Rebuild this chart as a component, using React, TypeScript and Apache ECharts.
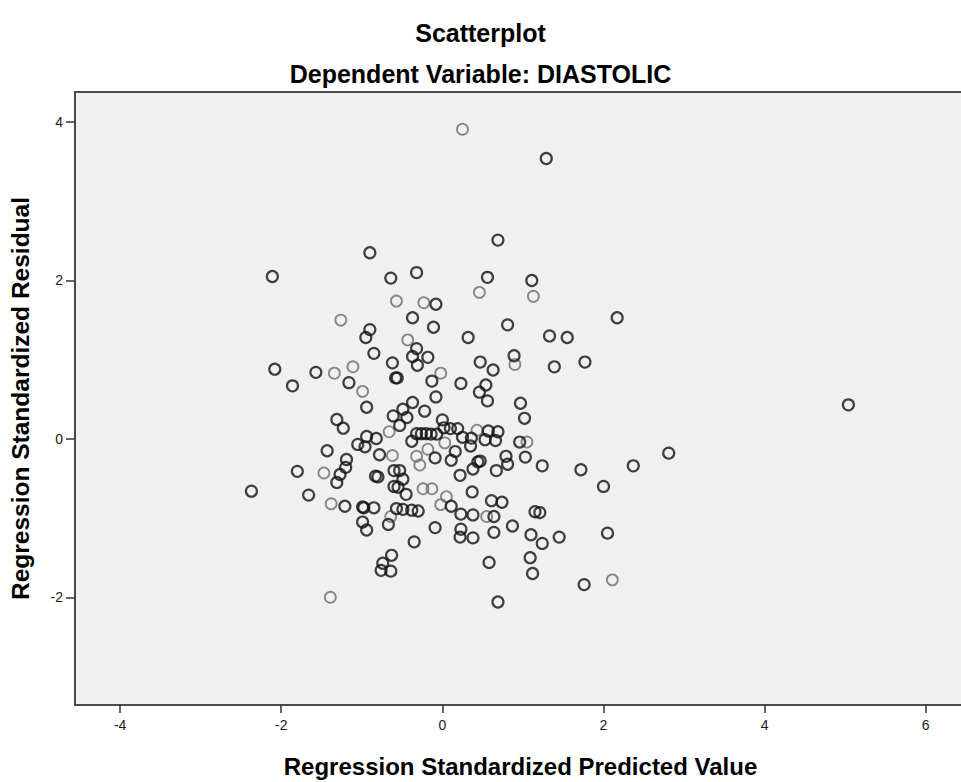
import React, { useEffect, useRef } from "react";
import * as echarts from "echarts";

const chartTitle = "Scatterplot";
const chartSubtitle = "Dependent Variable: DIASTOLIC";
const xAxisTitle = "Regression Standardized Predicted Value";
const yAxisTitle = "Regression Standardized Residual";

const xTickValues = [-4, -2, 0, 2, 4, 6];
const yTickValues = [-2, 0, 2, 4];

// [predicted, residual] — darker drawn circles
const darkPoints: [number, number][] = [
  [-0.9, 2.35], [-2.11, 2.05], [-0.64, 2.03], [-0.32, 2.1], [-0.08, 1.7],
  [-0.37, 1.53], [-0.11, 1.41], [-0.9, 1.38], [-0.95, 1.28], [0.32, 1.28],
  [-0.32, 1.14], [-0.37, 1.04], [-0.18, 1.03], [-0.31, 0.93], [-0.85, 1.08],
  [-0.62, 0.96], [0.47, 0.97], [-2.08, 0.88], [-1.57, 0.84], [-1.86, 0.67],
  [-1.16, 0.71], [-0.58, 0.77], [-0.56, 0.77], [-0.13, 0.73], [0.23, 0.7],
  [-0.08, 0.53], [-0.94, 0.4], [-0.37, 0.46], [-0.49, 0.375], [-0.22, 0.35],
  [-0.61, 0.29], [-0.44, 0.27], [-1.31, 0.245], [-1.23, 0.135], [0.0, 0.24],
  [-0.53, 0.17], [1.29, 3.54], [0.69, 2.51], [0.56, 2.04], [1.11, 2.0],
  [2.17, 1.53], [0.81, 1.44], [1.33, 1.3], [1.55, 1.28], [0.63, 0.87],
  [0.89, 1.05], [1.39, 0.91], [1.77, 0.97], [0.54, 0.68], [0.46, 0.59],
  [0.56, 0.48], [0.97, 0.45], [1.02, 0.26], [-0.32, 0.066], [-0.26, 0.066],
  [-0.2, 0.066], [-0.14, 0.06], [-0.07, 0.06], [0.02, 0.14], [0.1, 0.13],
  [0.19, 0.13], [0.25, 0.02], [0.36, 0.01], [0.57, 0.1], [0.69, 0.09],
  [0.53, -0.01], [0.66, -0.02], [-0.38, -0.03], [0.35, -0.09], [0.16, -0.16],
  [0.11, -0.27], [0.96, -0.04], [0.79, -0.22], [0.81, -0.32], [0.47, -0.28],
  [0.44, -0.29], [0.38, -0.38], [0.67, -0.4], [1.03, -0.23], [1.24, -0.34],
  [1.72, -0.39], [2.37, -0.34], [2.81, -0.18], [2.0, -0.6], [0.22, -0.46],
  [0.37, -0.67], [0.11, -0.85], [0.23, -0.95], [0.38, -0.96], [0.61, -0.78],
  [0.74, -0.8], [0.64, -0.98], [1.15, -0.92], [1.21, -0.93], [0.87, -1.1],
  [0.23, -1.14], [0.22, -1.24], [0.38, -1.25], [0.64, -1.18], [1.1, -1.21],
  [1.24, -1.32], [1.45, -1.24], [2.05, -1.19], [0.58, -1.56], [1.09, -1.5],
  [1.12, -1.7], [1.76, -1.84], [0.69, -2.06], [-0.09, -1.12], [5.04, 0.43],
  [-0.94, 0.03], [-0.82, 0.005], [-1.05, -0.07], [-0.96, -0.1], [-1.43, -0.15],
  [-0.78, -0.2], [-0.09, -0.24], [-1.19, -0.26], [-1.2, -0.36], [-1.27, -0.45],
  [-1.31, -0.55], [-1.8, -0.41], [-0.6, -0.4], [-0.53, -0.4], [-0.83, -0.47],
  [-0.8, -0.48], [-0.49, -0.51], [-0.6, -0.6], [-0.55, -0.61], [-0.45, -0.7],
  [-2.37, -0.66], [-1.66, -0.71], [-1.21, -0.85], [-0.99, -0.86], [-0.975, -0.87],
  [-0.85, -0.87], [-0.57, -0.88], [-0.49, -0.89], [-0.38, -0.9], [-0.3, -0.91],
  [-0.67, -1.08], [-0.99, -1.05], [-0.94, -1.15], [-0.35, -1.3], [-0.63, -1.47],
  [-0.74, -1.57], [-0.76, -1.66], [-0.64, -1.67],
];

// [predicted, residual] — lighter drawn circles
const lightPoints: [number, number][] = [
  [0.46, 1.85], [-0.57, 1.74], [-0.23, 1.72], [-1.26, 1.5], [-0.43, 1.25],
  [-1.34, 0.83], [-1.11, 0.91], [-0.02, 0.83], [-0.99, 0.6], [0.25, 3.91],
  [1.13, 1.8], [0.9, 0.94], [-0.66, 0.09], [0.43, 0.11], [0.03, -0.05],
  [1.05, -0.04], [0.05, -0.73], [-0.02, -0.83], [0.55, -0.98], [2.11, -1.78],
  [-0.62, -0.21], [-0.32, -0.22], [-0.18, -0.13], [-0.28, -0.33], [-1.47, -0.43],
  [-0.24, -0.63], [-0.13, -0.63], [-1.38, -0.82], [-0.64, -0.98], [-1.39, -2.0],
];

const FONT = "'Liberation Sans', Arial, sans-serif";

export default function App() {
  const ref = useRef<HTMLDivElement>(null);
  useEffect(() => {
    if (!ref.current) return;
    const chart = echarts.init(ref.current, null, { renderer: "svg" });
    chart.setOption({
      animation: false,
      backgroundColor: "#ffffff",
      textStyle: { fontFamily: FONT },
      title: [
        {
          text: chartTitle,
          left: "center",
          top: 15,
          textStyle: { fontFamily: FONT, fontWeight: "bold", fontSize: 25, color: "#000" },
        },
        {
          text: chartSubtitle,
          left: "center",
          top: 56,
          textStyle: { fontFamily: FONT, fontWeight: "bold", fontSize: 25, color: "#000" },
        },
      ],
      grid: {
        left: 75,
        top: 92,
        right: -5,
        bottom: 77,
        containLabel: false,
        outerBoundsMode: "none",
        show: true,
        backgroundColor: "#F0F0F0",
        borderColor: "#4a4a4a",
        borderWidth: 2,
      },
      xAxis: {
        type: "value",
        min: -4.56,
        max: 6.5,
        splitLine: { show: false },
        axisLine: { show: false, onZero: false },
        axisTick: {
          show: true,
          length: 8,
          customValues: xTickValues,
          lineStyle: { color: "#333", width: 1.5 },
        },
        axisLabel: {
          customValues: xTickValues,
          color: "#1a1a1a",
          fontSize: 14,
          fontFamily: FONT,
          margin: 13,
        },
        name: xAxisTitle,
        nameLocation: "middle",
        nameGap: 49,
        nameTextStyle: { fontFamily: FONT, fontWeight: "bold", fontSize: 24, color: "#000" },
      },
      yAxis: {
        type: "value",
        min: -3.36,
        max: 4.38,
        splitLine: { show: false },
        axisLine: { show: false, onZero: false },
        axisTick: {
          show: true,
          length: 9,
          customValues: yTickValues,
          lineStyle: { color: "#333", width: 1.5 },
        },
        axisLabel: {
          customValues: yTickValues,
          color: "#1a1a1a",
          fontSize: 14,
          fontFamily: FONT,
          margin: 12,
        },
        name: yAxisTitle,
        nameLocation: "middle",
        nameGap: 42,
        nameTextStyle: { fontFamily: FONT, fontWeight: "bold", fontSize: 24.5, color: "#000" },
      },
      series: [
        {
          type: "scatter",
          data: lightPoints,
          symbol: "circle",
          symbolSize: 11,
          itemStyle: { color: "rgba(0,0,0,0)", borderColor: "#6a6a6a", borderWidth: 1.8 },
          emphasis: { disabled: true },
        },
        {
          type: "scatter",
          data: darkPoints,
          symbol: "circle",
          symbolSize: 11,
          itemStyle: { color: "rgba(0,0,0,0)", borderColor: "#111", borderWidth: 2.2 },
          emphasis: { disabled: true },
        },
      ],
    });
    return () => chart.dispose();
  }, []);
  return (
    <div
      ref={ref}
      style={{ position: "fixed", left: 0, top: 0, width: 961, height: 782, overflow: "hidden" }}
    />
  );
}
